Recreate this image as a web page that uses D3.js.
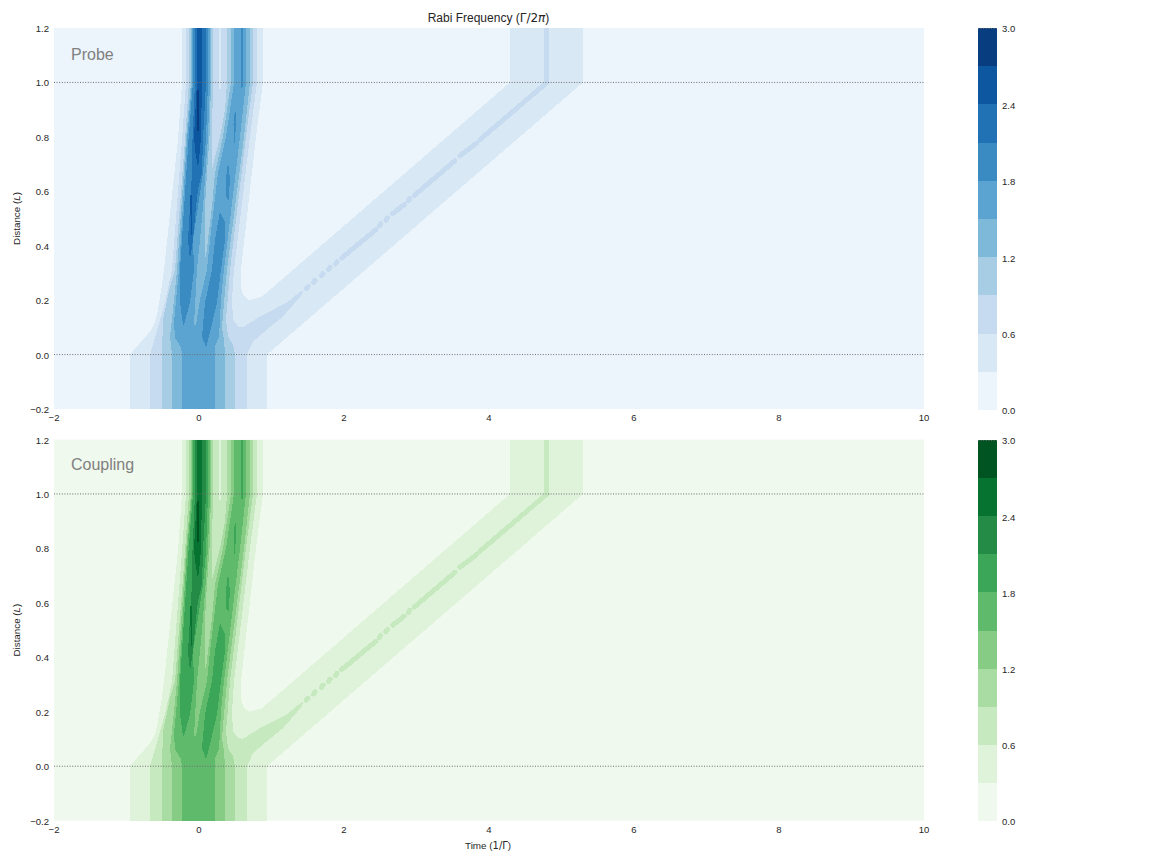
<!DOCTYPE html>
<html><head><meta charset="utf-8">
<script src="https://cdn.jsdelivr.net/npm/d3@7"></script>
<style>
html,body{margin:0;padding:0;background:#fff}
svg{display:block}
text{font-family:"Liberation Sans",Arial,sans-serif;fill:#262626}
</style></head><body>
<svg id="c" width="1152" height="864"></svg>
<script>
// Axis ticks
const timeTicks = [-2,0,2,4,6,8,10];
const distanceTicks = [-0.2,0,0.2,0.4,0.6,0.8,1.0,1.2];
const colorbarTicks = [0,0.6,1.2,1.8,2.4,3.0];
const contourLevels = [0,0.3,0.6,0.9,1.2,1.5,1.8,2.1,2.4,2.7,3.0];
const referenceLines = [0,1];

// Contour regions, as [time, distance] vertices. Each region holds values >= its level.
const above03 = [[[-.952,-.2],[-.952,0],[-.859,.029],[-.772,.055],[-.676,.084],[-.607,.118],[-.566,.165],[-.514,.25],[-.483,.312],[-.29,.79],[-.234,1],[-.234,1.2],[.883,1.2],[.883,1],[.786,.8],[.579,.312],[.579,.25],[.607,.22],[.69,.2],[.869,.213],[4.29,1],[4.29,1.2],[5.297,1.2],[5.297,1],[.938,0],[.938,-.2]]];
const above06 = [
 [[-.676,-.2],[-.676,0],[-.607,.062],[-.469,.191],[-.372,.312],[-.234,.79],[-.179,1],[-.179,1.2],[.276,1.2],[.276,.98],[.29,.972],[.303,.98],[.303,1.2],[.80,1.2],[.80,1],[.703,.8],[.483,.312],[.455,.202],[.469,.129],[.538,.103],[.607,.101],[.841,.14],[1.214,.191],[1.393,.231],[1.434,.235],[1.421,.22],[1.159,.14],[.938,.092],[.745,.048],[.662,0],[.662,-.2]],
 [[4.759,1.2],[4.828,1.2],[4.828,1],[4.759,.992]]
];
const above06Ridge = [
 [[1.48,.243],[1.505,.25]],[[1.58,.265],[1.60,.273]],[[1.69,.29],[1.71,.298]],[[1.787,.312],[1.807,.32]],[[1.884,.333],[1.904,.341]],
 [[1.968,.355],[2.441,.459]],[[2.487,.473],[2.507,.481]],[[2.579,.494],[2.599,.502]],
 [[2.672,.518],[2.832,.551]],[[2.887,.565],[2.907,.573]],[[2.97,.585],[3.531,.712]],[[3.6,.731],[3.83,.777]],[[3.876,.79],[4.8,1.0]]
];
const above09 = [[[-.51,-.2],[-.51,0],[-.497,.129],[-.40,.25],[-.331,.312],[-.193,.79],[-.138,1],[-.138,1.2],[.193,1.2],[.193,1],[.179,.8],[.186,.69],[.29,.8],[.359,.90],[.386,1],[.386,1.2],[.745,1.2],[.745,1],[.648,.8],[.428,.312],[.40,.213],[.372,.129],[.40,.066],[.469,.037],[.497,0],[.497,-.2]]];
const above12 = [[[-.372,-.2],[-.372,0],[-.40,.066],[-.359,.165],[-.303,.312],[-.179,.79],[-.11,1],[-.11,1.2],[.166,1.2],[.166,1],[.145,.8],[.11,.668],[.083,.544],[.076,.422],[.083,.36],[.097,.36],[.124,.422],[.179,.544],[.221,.668],[.331,.80],[.441,1],[.441,1.2],[.703,1.2],[.703,1],[.621,.8],[.386,.312],[.345,.191],[.317,.10],[.345,.055],[.359,0],[.359,-.2]]];
const above15 = [[[-.234,-.2],[-.234,0],[-.248,.026],[-.331,.062],[-.345,.118],[-.303,.239],[-.276,.312],[-.166,.79],[-.097,1],[-.097,1.2],[.152,1.2],[.152,1],[.124,.8],[.09,.668],[.055,.544],[.014,.422],[-.028,.312],[-.069,.11],[-.041,.11],[.014,.202],[.11,.312],[.152,.422],[.207,.544],[.262,.668],[.372,.8],[.483,1],[.483,1.2],[.648,1.2],[.648,1],[.566,.8],[.345,.312],[.303,.202],[.29,.129],[.276,.066],[.221,.029],[.221,0],[.221,-.2]]];
const above18 = [
 [[-.083,1.2],[-.083,1],[-.145,.79],[-.262,.312],[-.262,.191],[-.221,.11],[-.207,.11],[-.124,.191],[-.069,.312],[-.083,.422],[-.014,.544],[.055,.668],[.097,.79],[.124,1],[.124,1.2]],
 [[.579,1.2],[.607,1.2],[.607,.99],[.593,.973],[.579,.99]],
 [[.497,.903],[.51,.881],[.503,.808],[.497,.778],[.476,.778],[.476,.845]],
 [[.40,.709],[.428,.643],[.407,.569],[.372,.58],[.379,.661]],
 [[.29,.525],[.359,.485],[.359,.422],[.303,.312],[.248,.191],[.138,.066],[.097,.026],[.041,.066],[.083,.191],[.179,.312],[.221,.422],[.262,.485]]
];
const above21 = [[[-.055,1.2],[-.055,1],[-.09,.79],[-.097,.668],[-.124,.544],[-.152,.422],[-.124,.349],[-.083,.422],[-.041,.544],[-.014,.606],[.041,.668],[.055,.79],[.097,1],[.097,1.2]]];
const above24 = [
 [[-.028,1.2],[-.028,1],[-.069,.8],[-.055,.753],[-.014,.687],[.014,.753],[.028,.8],[.041,1],[.041,1.2]],
 [[-.124,.588],[-.097,.588],[-.097,.441],[-.11,.441]]
];
const above27 = [[[-.023,.973],[0,.973],[0,.822],[-.023,.822]]];
const regions = [above03,above06,above09,above12,above15,above18,above21,above24,above27];

const panelNames = ["Probe","Coupling"];
const panelSchemes = [d3.schemeBlues[9], d3.schemeGreens[9]];

const svg = d3.select("#c");
const x = d3.scaleLinear().domain([-2,10]).range([54,924]);
const line = d3.line();

function bandColor(scheme){
  const s = d3.scaleLinear().domain(scheme.map((_,i)=>i/(scheme.length-1))).range(scheme);
  return i => s((i+.5)/(contourLevels.length-1));
}
function mathLabel(t, parts){
  parts.forEach(p=>{
    const ts=t.append("tspan").text(p[0]);
    if(p[1]) ts.style("font-family","'DejaVu Sans'");
    if(p[2]) ts.style("font-style","italic");
  });
}

panelNames.forEach((name,pi)=>{
  const top = pi===0?28:439.5, bottom = pi===0?409:820.7;
  const y = d3.scaleLinear().domain([-.2,1.2]).range([bottom,top]);
  const color = bandColor(panelSchemes[pi]);
  const g = svg.append("g");
  const toPath = poly => line(poly.map(d=>[x(d[0]),y(d[1])]))+"Z";
  g.append("rect").attr("x",x(-2)).attr("y",y(1.2)).attr("width",x(10)-x(-2)).attr("height",y(-.2)-y(1.2)).attr("fill",color(0));
  regions.forEach((polys,li)=>{
    g.append("g").selectAll("path").data(polys).join("path")
      .attr("d",toPath).attr("fill",color(li+1)).attr("shape-rendering","crispEdges");
    if(polys===above06){
      g.append("g").selectAll("path").data(above06Ridge).join("path")
        .attr("d",s=>line(s.map(d=>[x(d[0]),y(d[1])])))
        .attr("fill","none").attr("stroke",color(li+1)).attr("stroke-width",5)
        .attr("stroke-linecap","round").attr("shape-rendering","crispEdges");
    }
  });
  g.selectAll("line.ref").data(referenceLines).join("line").attr("class","ref")
    .attr("x1",x(-2)).attr("x2",x(10)).attr("y1",d=>y(d)).attr("y2",d=>y(d))
    .attr("stroke","#6e6e6e").attr("stroke-width",1).attr("stroke-dasharray","1,1.6");
  // axes
  const ax = g.append("g").attr("transform",`translate(-0.5,${bottom})`)
    .call(d3.axisBottom(x).tickValues(timeTicks).tickSize(0).tickPadding(5.5).tickFormat(d3.format("d")));
  const ay = g.append("g").attr("transform",`translate(${x(-2)},0.5)`)
    .call(d3.axisLeft(y).tickValues(distanceTicks).tickSize(0).tickPadding(5).tickFormat(d3.format(".1f")));
  [ax,ay].forEach(a=>{a.select(".domain").remove();a.selectAll("text").style("font-family","'Liberation Sans'").style("font-size","9.5px").style("fill","#262626");});
  // panel label
  g.append("text").attr("x",71).attr("y",pi===0?top+31.5:top+30.5).attr("font-size",16).style("fill","#808080").text(name);
  // y label
  const yl = g.append("text").attr("transform",`translate(20,${(top+bottom)/2}) rotate(-90)`).attr("text-anchor","middle").attr("font-size",9.8);
  mathLabel(yl,[["Distance ("],["L",false,true],[")"]]);
  // colorbar
  const cy = d3.scaleLinear().domain([0,3]).range(pi===0?[410,28]:[821,440]);
  const bands = d3.pairs(contourLevels);
  g.append("g").selectAll("rect").data(bands).join("rect")
    .attr("x",978).attr("width",19).attr("y",d=>cy(d[1])).attr("height",d=>cy(d[0])-cy(d[1]))
    .attr("fill",(d,i)=>color(i)).attr("shape-rendering","crispEdges");
  g.append("line").attr("x1",978).attr("x2",997).attr("y1",cy(3)+.5).attr("y2",cy(3)+.5)
    .attr("stroke","#6e6e6e").attr("stroke-dasharray","1,1.6");
  const ac = g.append("g").attr("transform","translate(997,0.8)")
    .call(d3.axisRight(cy).tickValues(colorbarTicks).tickSize(0).tickPadding(5).tickFormat(d3.format(".1f")));
  ac.select(".domain").remove();
  ac.selectAll("text").style("font-family","'Liberation Sans'").style("font-size","9.5px").style("fill","#262626");
});

const title = svg.append("text").attr("x",488.5).attr("y",22).attr("text-anchor","middle").attr("font-size",12);
mathLabel(title,[["Rabi Frequency ("],["Γ/2",true],["π",true,true],[")"]]);
const xl = svg.append("text").attr("x",488).attr("y",849).attr("text-anchor","middle").attr("font-size",9.9);
mathLabel(xl,[["Time ("],["1/Γ",true],[")"]]);
</script>
</body></html>
